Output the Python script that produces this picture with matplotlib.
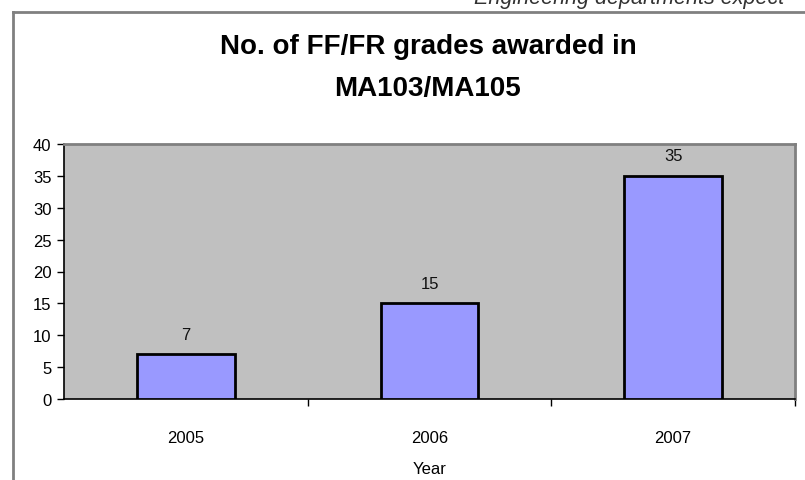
import numpy as np
import matplotlib
matplotlib.use("Agg")
import matplotlib.pyplot as plt
from matplotlib.lines import Line2D

years = ["2005", "2006", "2007"]
grades = [7, 15, 35]
y_ticks = [0, 5, 10, 15, 20, 25, 30, 35, 40]

plt.rcParams['font.family'] = ['Liberation Sans', 'DejaVu Sans']

fig = plt.figure(figsize=(8.05, 4.81), dpi=100)

# page fragment cut off at the top
fig.text(474 / 805, 1 - 4 / 481, "Engineering departments expect", fontsize=15.5,
         style='italic', color='#333333', va='baseline', ha='left')
# chart frame
fig.add_artist(Line2D([13 / 805, 1.0], [1 - 13 / 481, 1 - 13 / 481],
                      color='#808080', lw=2, transform=fig.transFigure))
fig.add_artist(Line2D([13 / 805, 13 / 805], [1 - 13 / 481, 0.0],
                      color='#808080', lw=2, transform=fig.transFigure))

fig.text(428 / 805, 1 - 47 / 481, "No. of FF/FR grades awarded in",
         fontsize=20, fontweight='bold', ha='center', va='center')
fig.text(428 / 805, 1 - 89 / 481, "MA103/MA105",
         fontsize=20, fontweight='bold', ha='center', va='center')

ax = fig.add_axes([64 / 805, 1 - 400 / 481, (795 - 64) / 805, (400 - 145) / 481])
ax.set_facecolor('#C0C0C0')

x = np.arange(len(years))
ax.bar(x, grades, width=0.4, color='#9999FF', edgecolor='black', linewidth=2, zorder=3)
for xi, v in zip(x, grades):
    ax.text(xi, v + 2.0, str(v), ha='center', va='bottom', fontsize=12, color='#111111')

ax.set_xlim(-0.5, 2.5)
ax.set_ylim(0, 40)
ax.set_yticks(y_ticks)
ax.set_xticks(x)
ax.set_xticklabels(years)
ax.set_xticks([0.5, 1.5, 2.5], minor=True)
ax.tick_params(axis='x', which='major', length=0, pad=22, labelsize=12)
ax.tick_params(axis='x', which='minor', length=5, width=1, direction='out')
ax.tick_params(axis='y', length=5, width=1, direction='out', labelsize=12, pad=4)

ax.spines['left'].set_color('black')
ax.spines['bottom'].set_color('black')
ax.spines['left'].set_linewidth(1.2)
ax.spines['bottom'].set_linewidth(1.2)
ax.spines['top'].set_color('#808080')
ax.spines['right'].set_color('#808080')
ax.spines['top'].set_linewidth(2)
ax.spines['right'].set_linewidth(2)

ax.set_xlabel("Year", fontsize=12, labelpad=12)

fig.savefig("out.png", dpi=100)
